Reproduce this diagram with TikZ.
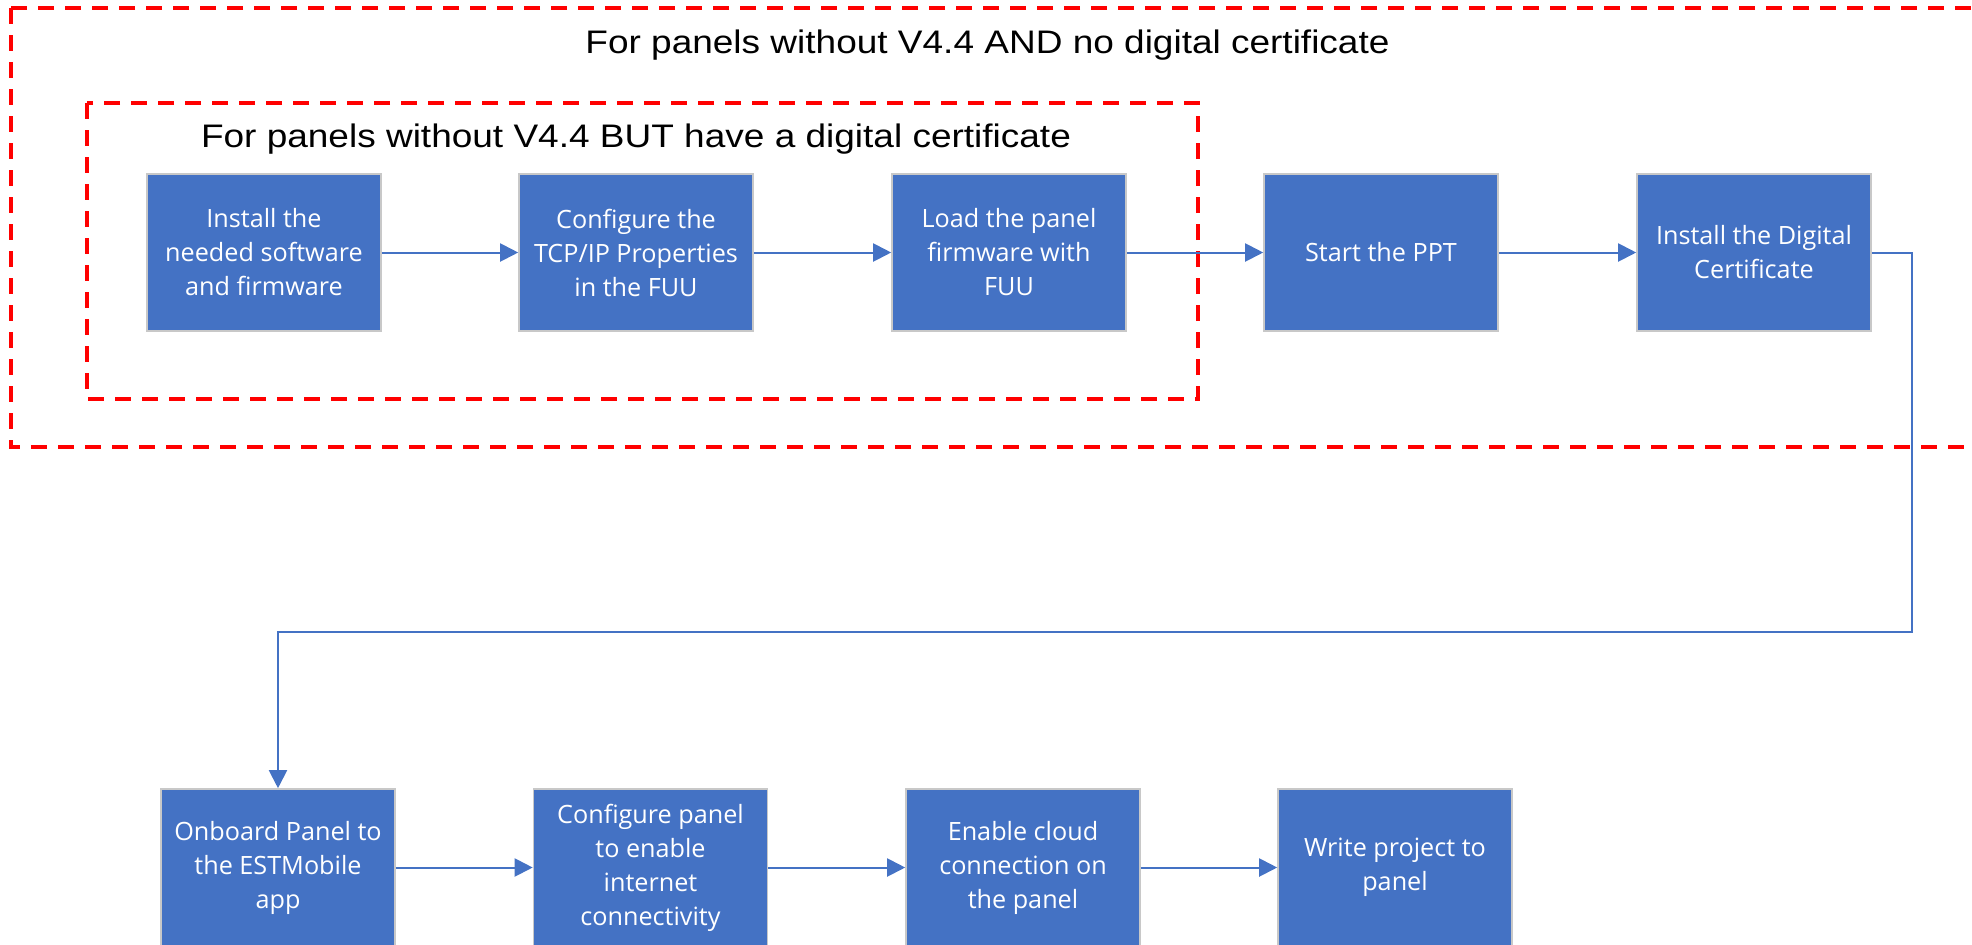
\documentclass[tikz,border=0pt]{standalone}
\usepackage{fontspec}
\setmainfont{Open Sans}
\newfontfamily\labelfont[FakeStretch=1.135]{Liberation Sans}
\usepackage{tikz}
\usetikzlibrary{arrows.meta, positioning}

\definecolor{stepblue}{HTML}{4472C4}
\definecolor{edgegray}{HTML}{C8C8C8}
\definecolor{zonered}{HTML}{FF0000}

\begin{document}
\begin{tikzpicture}[x=0.5pt, y=-0.5pt,
  stepbox/.style={rectangle, fill=stepblue, draw=edgegray, line width=0.8pt,
    text=white, minimum width=117pt, minimum height=78.5pt, inner sep=0pt,
    align=center, font=\fontsize{12.6}{17}\selectfont},
  flow/.style={draw=stepblue, line width=1pt, -{Triangle[length=9pt,width=9pt]}},
  zone/.style={draw=zonered, line width=2.4pt, dash pattern=on 8pt off 5.5pt},
  zonelabel/.style={anchor=base, font=\labelfont\fontsize{16.3}{19}\selectfont}]

  \useasboundingbox (0,0) rectangle (1972,944);
  \clip (0,0) rectangle (1972,944);

  % 1) dashed red zones and their captions
  \draw[zone] (11,8) rectangle (2010,447);
  \draw[zone] (87,103) rectangle (1198,399);
  \node[zonelabel] (outerlbl) at (987.5,53) {For panels without V4.4 AND no digital certificate};
  \node[zonelabel] (innerlbl) at (636,147) {For panels without V4.4 BUT have a digital certificate};

  % 2) first row of steps
  \node[stepbox] (install)  at (264,252.5)  {Install the\\needed software\\and firmware};
  \node[stepbox] (tcpip)    at (636,252.5)  {Configure the\\TCP/IP Properties\\in the FUU};
  \node[stepbox] (firmware) at (1009,252.5) {Load the panel\\firmware with\\FUU};
  \node[stepbox] (ppt)      at (1381,252.5) {Start the PPT};
  \node[stepbox] (cert)     at (1754,252.5) {Install the Digital\\Certificate};

  % 3) second row of steps
  \node[stepbox] (onboard)  at (278,867.5)   {Onboard Panel to\\the ESTMobile\\app};
  \node[stepbox] (internet) at (650.5,867.5) {Configure panel\\to enable\\internet\\connectivity};
  \node[stepbox] (cloud)    at (1023,867.5)  {Enable cloud\\connection on\\the panel};
  \node[stepbox] (write)    at (1395,867.5)  {Write project to\\panel};

  % 4) arrows
  \draw[flow] (install.east) -- (tcpip.west);
  \draw[flow] (tcpip.east) -- (firmware.west);
  \draw[flow] (firmware.east) -- (ppt.west);
  \draw[flow] (ppt.east) -- (cert.west);

  \coordinate (turn) at (1912,632);
  \draw[flow] (cert.east) -| (turn) -| (onboard.north); % wrap to second row

  \draw[flow] (onboard.east) -- (internet.west);
  \draw[flow] (internet.east) -- (cloud.west);
  \draw[flow] (cloud.east) -- (write.west);
\end{tikzpicture}
\end{document}
